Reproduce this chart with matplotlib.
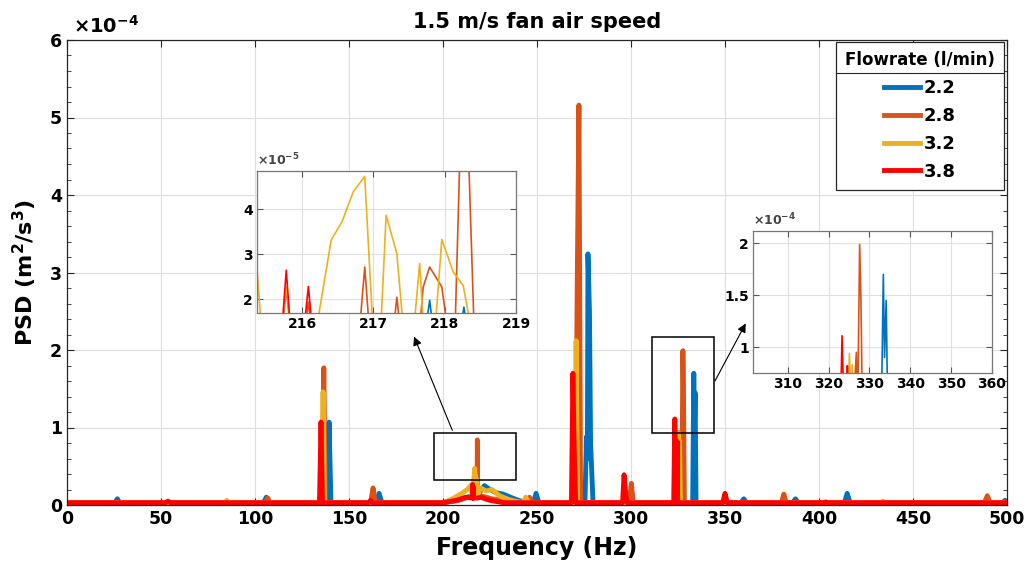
import matplotlib.pyplot as plt
from matplotlib.patches import Rectangle
from matplotlib.lines import Line2D
from matplotlib.ticker import AutoMinorLocator

plt.rcParams['font.family'] = ['DejaVu Sans']
plt.rcParams['font.weight'] = 'bold'
plt.rcParams['axes.labelweight'] = 'bold'
plt.rcParams['axes.titleweight'] = 'bold'
plt.rcParams['mathtext.fontset'] = 'custom'
plt.rcParams['mathtext.rm'] = 'DejaVu Sans:bold'
plt.rcParams['mathtext.bf'] = 'DejaVu Sans:bold'
plt.rcParams['mathtext.it'] = 'DejaVu Sans:bold'

# PSD values in units of 1e-4 m^2/s^3
labels = ['2.2', '2.8', '3.2', '3.8']
colors = ['#0072BD', '#D95319', '#EDB120', '#FF0000']

freq_22 = [0, 25.5, 26.8, 28, 104.5, 106, 107.5, 138.4, 139.4, 140.4, 164.5, 166, 167.5,
           200, 208, 213, 215.4, 217.72, 217.79, 217.85, 218.21, 218.27, 218.33, 218.6,
           220, 222, 225, 228, 232, 236, 240, 245, 248, 249.5, 251,
           275.5, 276.3, 276.8, 277.1, 277.9, 278.5, 279.8, 296,
           332.8, 333.4, 333.7, 334.1, 334.6, 358.5, 360, 361.5, 386, 387.5, 389,
           413.5, 415, 416.5, 497.5, 499, 500]
psd_22 = [0.03, 0.03, 0.08, 0.03, 0.03, 0.10, 0.03, 0.03, 1.07, 0.03, 0.03, 0.15, 0.03,
          0.03, 0.06, 0.10, 0.12, 0.12, 0.198, 0.12, 0.12, 0.183, 0.12, 0.12,
          0.18, 0.25, 0.20, 0.16, 0.14, 0.10, 0.06, 0.03, 0.03, 0.15, 0.03,
          0.03, 0.88, 0.6, 3.24, 2.5, 0.8, 0.03, 0.03,
          0.03, 1.70, 0.9, 1.45, 0.03, 0.03, 0.08, 0.03, 0.03, 0.08, 0.03,
          0.03, 0.15, 0.03, 0.03, 0.06, 0.03]

freq_28 = [0, 105.5, 106.8, 108, 135.8, 136.6, 137.4, 161.5, 162.8, 164, 200, 208, 213,
           215.4, 215.7, 215.78, 215.86, 216.02, 216.09, 216.16, 216.79, 216.88, 216.96,
           217.26, 217.33, 217.4, 217.63, 217.7, 217.79, 217.96, 218.07, 218.14, 218.27, 218.42,
           220, 226, 235, 244.5, 246, 247.5, 270.5, 271.4, 272.3, 273.2, 299, 300.2, 301.2,
           325.5, 326.8, 327.1, 327.6, 327.9, 328.4, 380, 381.3, 382.5, 488, 489.5, 491, 500]
psd_28 = [0.03, 0.03, 0.09, 0.03, 0.03, 1.77, 0.03, 0.03, 0.22, 0.03, 0.03, 0.06, 0.10,
          0.10, 0.10, 0.224, 0.10, 0.10, 0.194, 0.10, 0.10, 0.272, 0.10,
          0.10, 0.205, 0.10, 0.10, 0.228, 0.272, 0.228, 0.10, 0.10, 0.84, 0.10,
          0.12, 0.08, 0.05, 0.03, 0.10, 0.03, 0.03, 2.86, 5.16, 0.03, 0.03, 0.28, 0.03,
          0.03, 0.95, 0.30, 1.99, 1.50, 0.03, 0.03, 0.14, 0.03, 0.03, 0.12, 0.03, 0.03]

freq_32 = [0, 84, 85, 86, 135.4, 136.2, 137.0, 200, 205, 210, 213,
           215.37, 215.44, 215.7, 215.78, 215.86, 216.02, 216.09, 216.19, 216.26, 216.41,
           216.56, 216.72, 216.88, 217.0, 217.1, 217.18, 217.33, 217.43, 217.56, 217.65,
           217.71, 217.86, 217.96, 218.12, 218.26, 218.39,
           220, 223, 226, 230, 235, 240, 242.5, 244, 245.5, 270, 270.8, 271.6,
           324.4, 325.1, 325.5, 325.8, 326.3, 433, 434, 435, 500]
psd_32 = [0.03, 0.03, 0.06, 0.03, 0.03, 1.46, 0.03, 0.03, 0.08, 0.15, 0.20,
          0.268, 0.12, 0.12, 0.228, 0.12, 0.12, 0.15, 0.12, 0.19, 0.332,
          0.372, 0.439, 0.473, 0.12, 0.12, 0.387, 0.302, 0.12, 0.12, 0.28,
          0.12, 0.12, 0.333, 0.261, 0.231, 0.12,
          0.22, 0.18, 0.20, 0.12, 0.07, 0.04, 0.03, 0.10, 0.03, 0.03, 2.12, 0.03,
          0.03, 0.94, 0.50, 0.83, 0.03, 0.03, 0.05, 0.03, 0.03]

freq_38 = [0, 52.5, 53.7, 55, 134.3, 135.1, 135.9, 160.5, 161.5, 162.5, 200, 207, 212,
           215.4, 215.7, 215.78, 215.86, 216.0, 216.09, 216.17, 218.5, 220, 225, 232,
           268.3, 269.1, 269.6, 270.0, 270.6, 295.5, 296.3, 297.2, 298,
           322.7, 323.3, 323.7, 324.1, 324.4, 324.6, 324.8, 348.8, 350, 351.2,
           402.5, 403.6, 404.5, 500]
psd_38 = [0.03, 0.03, 0.05, 0.03, 0.03, 1.07, 0.03, 0.03, 0.06, 0.03, 0.03, 0.06, 0.10,
          0.09, 0.09, 0.265, 0.09, 0.09, 0.229, 0.09, 0.09, 0.10, 0.06, 0.03,
          0.03, 1.70, 1.00, 0.50, 0.03, 0.03, 0.39, 0.15, 0.03,
          0.03, 1.11, 0.50, 0.03, 0.03, 0.82, 0.03, 0.03, 0.15, 0.03,
          0.03, 0.04, 0.03, 0.03]

series = [(freq_22, psd_22), (freq_28, psd_28), (freq_32, psd_32), (freq_38, psd_38)]

W, H = 1027, 577
def fx(px):
    return px / W
def fy(py):
    return 1 - py / H

fig = plt.figure(figsize=(10.27, 5.77), dpi=100)
ax = fig.add_axes([fx(67), fy(505), fx(1007) - fx(67), fy(40) - fy(505)])

for (f, p), c, lab in zip(series, colors, labels):
    ax.plot(f, p, color=c, lw=3.5, label=lab)

axc = '#262626'
ax.set_xlim(0, 500)
ax.set_ylim(0, 6)
ax.set_xticks(range(0, 501, 50))
ax.set_yticks(range(0, 7))
ax.yaxis.set_minor_locator(AutoMinorLocator(5))
ax.tick_params(which='both', direction='in', top=True, right=True, color=axc)
ax.tick_params(which='major', length=5, labelsize=12.5)
ax.tick_params(which='minor', length=3)
ax.tick_params(axis='x', which='minor', length=0)
for lbl in ax.get_xticklabels() + ax.get_yticklabels():
    lbl.set_fontweight('bold')
for s in ax.spines.values():
    s.set_color(axc)
    s.set_linewidth(0.9)
ax.grid(True, color='#dedede', lw=0.8)
ax.text(0.006, 1.006, r'$\times$10$^{-4}$', transform=ax.transAxes, fontsize=14,
        ha='left', va='bottom')
ax.set_title('1.5 m/s fan air speed', fontsize=15, fontweight='bold', pad=9)
ax.set_xlabel('Frequency (Hz)', fontsize=17, fontweight='bold', labelpad=6)
ax.set_ylabel(r'PSD (m$^{2}$/s$^{3}$)', fontsize=16, fontweight='bold', labelpad=8)

leg = ax.legend(title='Flowrate (l/min)', loc='upper right',
                bbox_to_anchor=(fx(1004), fy(42)), bbox_transform=fig.transFigure,
                borderaxespad=0, prop={'weight': 'bold', 'size': 13},
                title_fontproperties={'weight': 'bold', 'size': 12},
                frameon=True, fancybox=False, edgecolor=axc, framealpha=1,
                handlelength=2.0, handletextpad=0.2, labelspacing=0.55, borderpad=0.5)
leg.get_frame().set_linewidth(0.9)

# zoom boxes and arrows
ax.add_patch(Rectangle((195, 0.32), 44, 0.61, fill=False, ec='black', lw=1.1, zorder=5))
ax.add_patch(Rectangle((311, 0.93), 33, 1.24, fill=False, ec='black', lw=1.1, zorder=5))
ax.annotate('', xy=(fx(413), fy(334)), xycoords='figure fraction',
            xytext=(205.5, 0.93), textcoords='data',
            arrowprops=dict(arrowstyle='-|>', color='black', lw=0.8, mutation_scale=13),
            zorder=6)
ax.annotate('', xy=(fx(747), fy(321)), xycoords='figure fraction',
            xytext=(344, 1.57), textcoords='data',
            arrowprops=dict(arrowstyle='-|>', color='black', lw=0.8, mutation_scale=13),
            zorder=6)

# inset 1 (x1e-5)
ax1 = fig.add_axes([fx(257), fy(313), fx(516) - fx(257), fy(171) - fy(313)])
for (f, p), c in zip(series, colors):
    ax1.plot(f, [v * 10 for v in p], color=c, lw=1.2)
ax1.set_xlim(215.37, 219)
ax1.set_ylim(1.7, 4.85)
ax1.set_xticks([216, 217, 218, 219])
ax1.set_yticks([2, 3, 4])
ax1.text(0.0, 1.02, r'$\times$10$^{-5}$', transform=ax1.transAxes, fontsize=9,
         ha='left', va='bottom', color='#444444')

# inset 2 (x1e-4)
ax2 = fig.add_axes([fx(753), fy(373), fx(992) - fx(753), fy(231) - fy(373)])
for (f, p), c in zip(series, colors):
    ax2.plot(f, p, color=c, lw=1.2)
ax2.set_xlim(301.5, 360)
ax2.set_ylim(0.75, 2.12)
ax2.set_xticks(range(310, 361, 10))
ax2.set_yticks([1, 1.5, 2], ['1', '1.5', '2'])
ax2.text(0.0, 1.02, r'$\times$10$^{-4}$', transform=ax2.transAxes, fontsize=9,
         ha='left', va='bottom', color='#444444')

for a in (ax1, ax2):
    a.tick_params(direction='in', top=True, right=True, length=4, labelsize=10,
                  pad=3, color='#555555')
    for lbl in a.get_xticklabels() + a.get_yticklabels():
        lbl.set_fontweight('bold')
    a.grid(True, color='#e0e0e0', lw=0.8)
    for s in a.spines.values():
        s.set_color('#777777')
        s.set_linewidth(0.9)

# separator under the legend title
fig.canvas.draw()
r = fig.canvas.get_renderer()
tb = leg.get_title().get_window_extent(r)
fb = leg.get_frame().get_window_extent(r)
ysep = (tb.y0 - 4) / fig.bbox.height
fig.add_artist(Line2D([fb.x0 / fig.bbox.width, fb.x1 / fig.bbox.width], [ysep, ysep],
                      color=axc, lw=0.8))

fig.savefig('out.png', dpi=100)
